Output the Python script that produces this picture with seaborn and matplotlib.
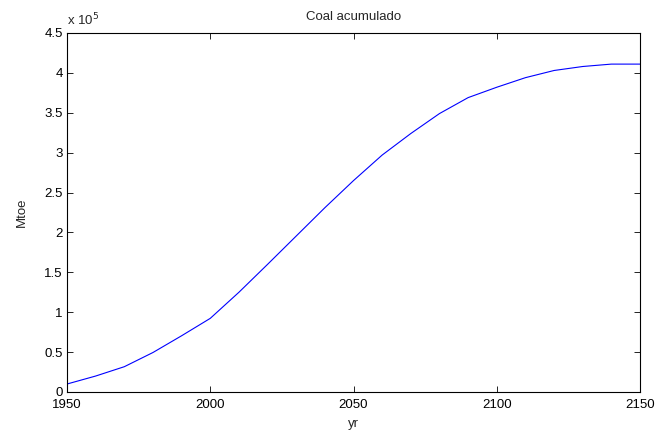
import matplotlib
matplotlib.use("Agg")
import matplotlib.pyplot as plt
import matplotlib.ticker as mticker
import pandas as pd
import seaborn as sns

# Cumulative coal production (Mtoe), every 10 years
years = [1950, 1960, 1970, 1980, 1990, 2000, 2010, 2020, 2030, 2040, 2050,
         2060, 2070, 2080, 2090, 2100, 2110, 2120, 2130, 2140, 2150]
coal_cum = [10000, 20000, 31700, 49500, 70500, 92300, 125000, 160000, 195500,
            231000, 265000, 297000, 324000, 349000, 369000, 382000, 394000,
            403000, 408000, 411000, 411000]
x_ticks = [1950, 2000, 2050, 2100, 2150]
y_ticks = [0, 50000, 100000, 150000, 200000, 250000, 300000, 350000, 400000, 450000]

sns.set_theme(style="ticks")
plt.rcParams["font.family"] = ["Liberation Sans", "DejaVu Sans"]
plt.rcParams["axes.linewidth"] = 0.8
plt.rcParams["xtick.direction"] = "in"
plt.rcParams["ytick.direction"] = "in"

df = pd.DataFrame({"yr": years, "Mtoe": coal_cum})

fig = plt.figure(figsize=(6.59, 4.37), dpi=100)
ax = fig.add_axes([0.1017, 0.103, 0.8695, 0.8215])

sns.lineplot(data=df, x="yr", y="Mtoe", ax=ax, color="#0000ff", linewidth=0.8)

ax.set_xlim(1950, 2150)
ax.set_ylim(0, 450000)
ax.set_xticks(x_ticks)
ax.set_yticks(y_ticks)
ax.yaxis.set_major_formatter(mticker.FuncFormatter(lambda v, p: f"{v/1e5:g}"))
ax.tick_params(axis="both", which="both", top=True, right=True, length=4.5,
               width=0.6, color="black", labelsize=9.5, labelcolor="black")
ax.tick_params(axis="x", pad=5)
ax.tick_params(axis="y", pad=3)
for s in ax.spines.values():
    s.set_visible(True)
    s.set_color("black")

ax.set_xlabel("yr", fontsize=9.5, labelpad=5)
ax.set_ylabel("Mtoe", fontsize=9.5, labelpad=12)
ax.set_title("Coal acumulado", fontsize=9.5, pad=9)
ax.text(0.0, 1.014, r"x 10$^{5}$", transform=ax.transAxes, fontsize=9.5,
        ha="left", va="bottom")

fig.savefig("out.png", dpi=100)
